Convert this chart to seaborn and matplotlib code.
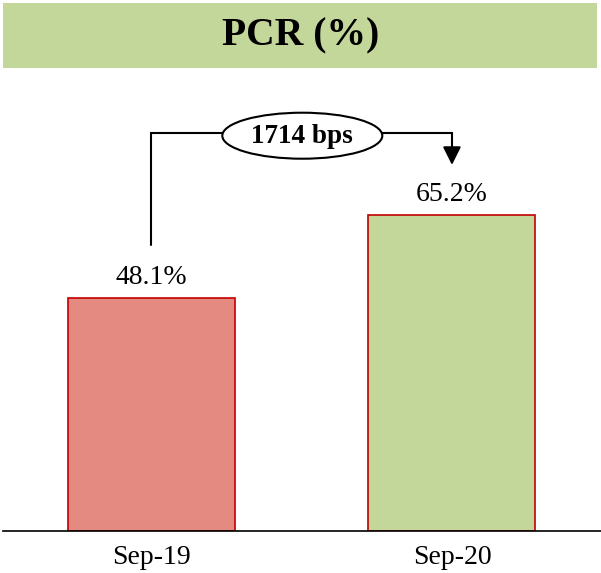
import matplotlib
matplotlib.use('Agg')
import matplotlib.pyplot as plt
import seaborn as sns
from matplotlib.patches import Rectangle, Ellipse

periods = ['Sep-19', 'Sep-20']
pcr = [48.1, 65.2]
bar_colors = ['#E48A80', '#C4D79B']
change_label = '1714 bps'
title = 'PCR (%)'

sns.set_style('white')
plt.rcParams['font.family'] = ['Liberation Serif', 'DejaVu Serif']
plt.rcParams['text.color'] = 'black'
plt.rcParams['xtick.color'] = 'black'

fig = plt.figure(figsize=(6.01, 5.73), dpi=100)
ax = fig.add_axes([3 / 601, (573 - 531) / 573, 598 / 601, (531 - 80) / 573])

sns.barplot(x=periods, y=pcr, hue=periods, palette=bar_colors, width=0.556,
            edgecolor='#C00000', linewidth=1.2, legend=False, ax=ax, saturation=1)

ax.set_xlim(-0.494, 1.496)
ax.set_ylim(0, 93.1)
for s in ['top', 'right', 'left']:
    ax.spines[s].set_visible(False)
ax.spines['bottom'].set_color('black')
ax.spines['bottom'].set_linewidth(1.2)
ax.set_yticks([])
ax.tick_params(axis='x', length=0, pad=10, labelsize=20, labelcolor='black')
ax.set_xlabel('')
ax.set_ylabel('')

# value labels
for i, v in enumerate(pcr):
    ax.text(i, v + 1.6, f'{v}%', ha='center', va='bottom', fontsize=20)

# bracket with arrow
top_y = 82.2
ax.plot([0, 0, 1, 1], [59.0, top_y, top_y, 78.5], color='black', lw=1.5,
        solid_joinstyle='miter')
ax.annotate('', xy=(1, 75.0), xytext=(1, 78.8),
            arrowprops=dict(arrowstyle='-|>,head_length=1.1,head_width=0.55',
                            color='black', lw=1.5))
ax.add_patch(Ellipse((0.502, 81.6), 160 / 300.5, 46 / 4.844, facecolor='white',
                     edgecolor='black', lw=1.5, zorder=5))
ax.text(0.502, 81.5, change_label, ha='center', va='center', fontsize=19.5,
        fontweight='bold', zorder=6)

# title band
fig.patches.append(Rectangle((3 / 601, (573 - 68) / 573), 594 / 601, 65 / 573,
                             transform=fig.transFigure, facecolor='#C4D79B',
                             edgecolor='none', zorder=0))
fig.text(0.5, (573 - 36) / 573, title, ha='center', va='center', fontsize=28.5,
         fontweight='bold')

fig.savefig('out.png', dpi=100)
